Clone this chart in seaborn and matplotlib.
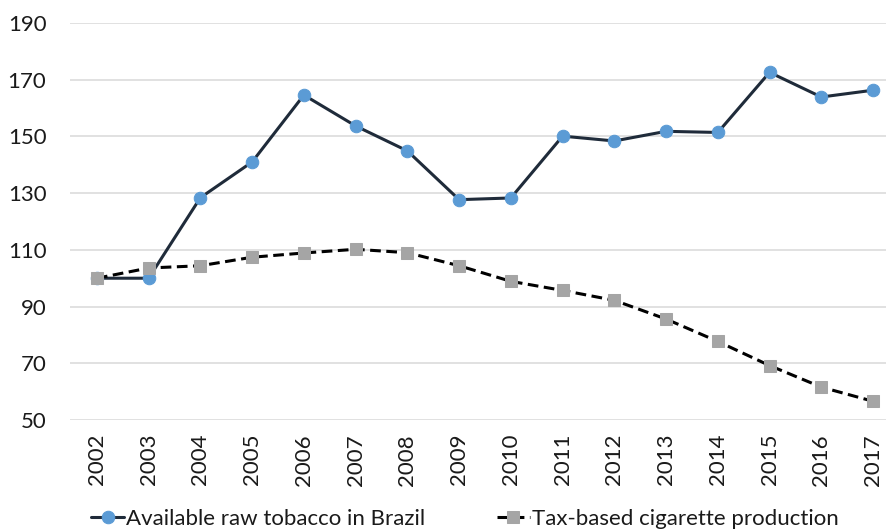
import matplotlib
matplotlib.use('Agg')
import matplotlib.pyplot as plt
import pandas as pd
import seaborn as sns

# data (index, 2002 = 100)
years = ['2002', '2003', '2004', '2005', '2006', '2007', '2008', '2009',
         '2010', '2011', '2012', '2013', '2014', '2015', '2016', '2017']
raw_tobacco = [100.0, 100.0, 128.4, 141.0, 164.6, 153.7, 144.9, 127.7,
               128.3, 150.1, 148.4, 151.8, 151.4, 172.6, 163.9, 166.3]
cigarettes = [100.0, 103.6, 104.4, 107.4, 108.9, 110.2, 109.0, 104.4,
              98.9, 95.7, 92.2, 85.6, 77.7, 69.2, 61.6, 56.6]
y_ticks = [50, 70, 90, 110, 130, 150, 170, 190]

label_raw = 'Available raw tobacco in Brazil'
label_cig = 'Tax-based cigarette production'

df = pd.DataFrame({'pos': range(len(years)), 'year': years,
                   'raw': raw_tobacco, 'cig': cigarettes})

sns.set_style('white')
plt.rcParams['font.family'] = ['Lato', 'DejaVu Sans']
text_color = '#1a1a1a'

fig = plt.figure(figsize=(8.86, 5.31), dpi=100)
ax = fig.add_axes([70 / 886, 1 - 420 / 531, 816 / 886, 397 / 531])

sns.lineplot(data=df, x='pos', y='raw', ax=ax, color='#1f2b3a', linewidth=2.2,
             marker='o', markersize=9, markerfacecolor='#5b9bd5',
             markeredgecolor='#5b9bd5', label=label_raw)
sns.lineplot(data=df, x='pos', y='cig', ax=ax, color='#000000', linewidth=2.2,
             linestyle=(0, (3.5, 1.8)), marker='s', markersize=8,
             markerfacecolor='#a5a5a5', markeredgecolor='#a5a5a5',
             label=label_cig)

# axes limits, ticks and grid
ax.set_xlim(-0.52, 15.25)
ax.set_ylim(50, 190)
ax.set_yticks(y_ticks)
ax.set_xticks(df['pos'])
ax.set_xticklabels(years, rotation=90)
ax.tick_params(axis='both', length=0, labelsize=16, colors=text_color)
ax.tick_params(axis='y', pad=17)
ax.tick_params(axis='x', pad=10)
ax.yaxis.grid(True, color='#d9d9d9', linewidth=1.1)
ax.set_axisbelow(True)
ax.set_xlabel('')
ax.set_ylabel('')
sns.despine(ax=ax, left=True, bottom=True)

# legend below the plot
ax.legend(loc='center', bbox_to_anchor=(0.484, -0.25), ncol=2,
          frameon=False, fontsize=16, handlelength=1.5, handletextpad=0.1,
          columnspacing=3.2, labelcolor=text_color, borderaxespad=0)

fig.savefig('out.png', dpi=100, facecolor='white')
